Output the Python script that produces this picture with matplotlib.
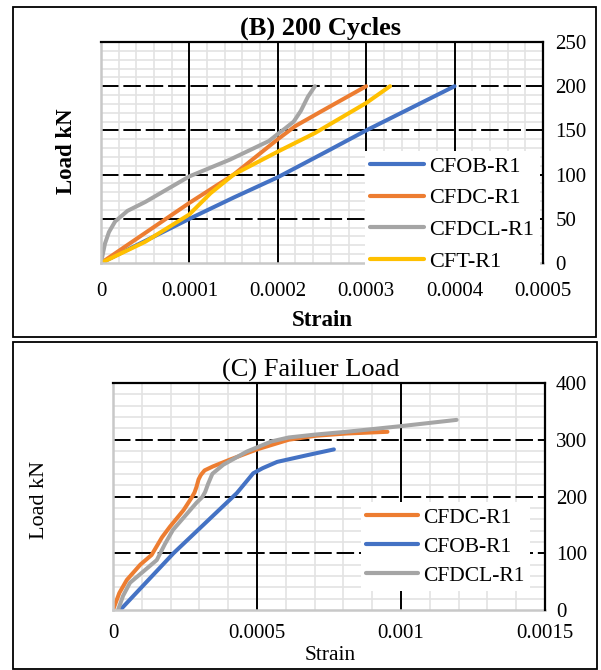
import numpy as np
import matplotlib
matplotlib.use("Agg")
import matplotlib.pyplot as plt
from matplotlib.patches import Rectangle
from matplotlib.ticker import MultipleLocator

plt.rcParams['font.family'] = ['Liberation Serif', 'DejaVu Serif']

# Series colours (Office palette)
BLUE = '#4472C4'
ORANGE = '#ED7D31'
GREY = '#A5A5A5'
YELLOW = '#FFC000'

# ---- (B) 200 cycles ----
b_cfob_strain = [0, 0.00005, 0.0001, 0.00015, 0.0002, 0.000255, 0.0003, 0.0004]
b_cfob_load = [0, 25, 50, 74, 97, 126, 150, 200]

b_cfdc_strain = [0, 0.0001, 0.00015, 0.0002, 0.00022, 0.00025, 0.0003]
b_cfdc_load = [0, 68, 100, 140, 155, 172, 200]

b_cfdcl_strain = [0, 0.0000045, 0.000009, 0.000016, 0.00003, 0.00005, 0.0001, 0.000146,
                  0.00019, 0.0002, 0.000208, 0.000218, 0.000226, 0.000234, 0.000242]
b_cfdcl_load = [0, 22, 35, 47, 59, 69, 98, 117, 138, 146, 152, 160, 172, 188, 200]

b_cft_strain = [0, 0.00005, 0.0001, 0.000124, 0.00015, 0.0002, 0.000242, 0.0003, 0.000327]
b_cft_load = [0, 24, 55, 79, 100, 126, 147, 181, 200]

# ---- (C) failure load ----
c_cfdc_strain = [0, 0.000022, 0.000048, 0.000095, 0.000134, 0.00017, 0.000198, 0.000245,
                 0.000273, 0.000283, 0.00029, 0.000297, 0.000305, 0.000318, 0.000347,
                 0.000406, 0.0005, 0.00061, 0.000703, 0.00081, 0.000953]
c_cfdc_load = [0, 30, 53, 80, 97, 128, 147, 176, 198, 207, 217, 230, 238, 246, 253,
               265, 283, 300, 307, 311, 314]

c_cfob_strain = [0.000025, 0.00021, 0.00043, 0.000487, 0.00052, 0.00057, 0.000676, 0.000767]
c_cfob_load = [0, 100, 206, 241, 250, 261, 273, 283]

c_cfdcl_strain = [0.0000174, 0.000035, 0.000059, 0.000152, 0.00018, 0.000208, 0.00029,
                  0.00031, 0.00032, 0.00033, 0.000345, 0.000383, 0.000464, 0.00055,
                  0.00061, 0.0007, 0.00081, 0.001, 0.001193]
c_cfdcl_load = [0, 25, 48, 88, 116, 141, 189, 199, 208, 222, 240, 256, 279, 297,
                304, 309, 314, 324, 335]

W, H = 601, 670
fig = plt.figure(figsize=(W / 100, H / 100), dpi=100)


def px_axes(left, top, right, bottom):
    return fig.add_axes([left / W, 1 - bottom / H, (right - left) / W, (bottom - top) / H])


def frame(left, top, right, bottom):
    fig.patches.append(Rectangle((left / W, 1 - bottom / H), (right - left) / W, (bottom - top) / H,
                                 transform=fig.transFigure, fill=False, edgecolor='black', lw=1.3))


def style_axes(ax, xmax, xmaj, ymax, ymaj, xpad, ypad):
    ax.set_xlim(0, xmax)
    ax.set_ylim(0, ymax)
    ax.xaxis.set_major_locator(MultipleLocator(xmaj))
    ax.xaxis.set_minor_locator(MultipleLocator(xmaj / 5))
    ax.yaxis.set_major_locator(MultipleLocator(ymaj))
    ax.yaxis.set_minor_locator(MultipleLocator(ymaj / 5))
    ax.set_axisbelow(True)
    ax.grid(which='minor', color='#E3E3E3', lw=1.2)
    # major gridlines: solid verticals, dashed horizontals
    for xv in np.arange(xmaj, xmax, xmaj):
        ax.axvline(xv, color='black', lw=1.4, zorder=0.6)
    for yv in np.arange(ymaj, ymax, ymaj):
        ax.axhline(yv, color='black', lw=1.4, linestyle=(0, (9, 2.5)), zorder=0.6)
    ax.yaxis.tick_right()
    ax.tick_params(which='both', length=0)
    ax.tick_params(axis='x', pad=xpad, labelsize=15)
    ax.tick_params(axis='y', pad=ypad, labelsize=15)
    for s in ('left', 'bottom'):
        ax.spines[s].set_color('#C8C8C8')
        ax.spines[s].set_linewidth(1.8)
    for s in ('top', 'right'):
        ax.spines[s].set_color('black')
        ax.spines[s].set_linewidth(1.6)
        ax.spines[s].set_zorder(6)
    ax.xaxis.set_major_formatter(lambda v, p: '0' if v == 0 else ('%.4f' % v).rstrip('0'))


lw = 2.9

# Panel B
frame(13, 7, 596, 337)
axb = px_axes(101, 42, 543, 263)
style_axes(axb, 0.0005, 0.0001, 250, 50, 14, 9)
axb.plot(b_cfob_strain, b_cfob_load, color=BLUE, lw=lw, label='CFOB-R1', solid_capstyle='round')
axb.plot(b_cfdc_strain, b_cfdc_load, color=ORANGE, lw=lw, label='CFDC-R1', solid_capstyle='round')
axb.plot(b_cfdcl_strain, b_cfdcl_load, color=GREY, lw=lw, label='CFDCL-R1', solid_capstyle='round')
axb.plot(b_cft_strain, b_cft_load, color=YELLOW, lw=lw, label='CFT-R1', solid_capstyle='round')
leg = axb.legend(loc='lower right', bbox_to_anchor=(1.018, -0.115), frameon=True, fancybox=False,
                 framealpha=1, edgecolor='none', fontsize=16, handlelength=2.4,
                 handletextpad=0.25, labelspacing=0.5, borderpad=0.25)
leg.set_zorder(5)
for l in leg.get_lines():
    l.set_linewidth(3)

fig.text(320 / W, 1 - 28 / H, '(B) 200 Cycles', ha='center', va='center', fontsize=19, fontweight='bold')
fig.text(66 / W, 1 - 151 / H, 'Load kN', ha='center', va='center', rotation=90, fontsize=16.5, fontweight='bold')
fig.text(322 / W, 1 - 321 / H, 'Strain', ha='center', va='center', fontsize=16.5, fontweight='bold')

# Panel C
frame(13, 342, 597, 669)
axc = px_axes(113, 383, 545, 610)
style_axes(axc, 0.0015, 0.0005, 400, 100, 10, 8)
axc.plot(c_cfdc_strain, c_cfdc_load, color=ORANGE, lw=lw, label='CFDC-R1', solid_capstyle='round')
axc.plot(c_cfob_strain, c_cfob_load, color=BLUE, lw=lw, label='CFOB-R1', solid_capstyle='round')
axc.plot(c_cfdcl_strain, c_cfdcl_load, color=GREY, lw=lw, label='CFDCL-R1', solid_capstyle='round')
leg = axc.legend(loc='lower right', bbox_to_anchor=(0.99, 0.035), frameon=True, fancybox=False,
                 framealpha=1, edgecolor='none', fontsize=15.5, handlelength=2.4,
                 handletextpad=0.25, labelspacing=0.42, borderpad=0.25)
leg.set_zorder(5)
for l in leg.get_lines():
    l.set_linewidth(3)

fig.text(311 / W, 1 - 370 / H, '(C) Failuer Load', ha='center', va='center', fontsize=19)
fig.text(40 / W, 1 - 500 / H, 'Load kN', ha='center', va='center', rotation=90, fontsize=16)
fig.text(330 / W, 1 - 655 / H, 'Strain', ha='center', va='center', fontsize=15.5)

fig.savefig('out.png', dpi=100)
